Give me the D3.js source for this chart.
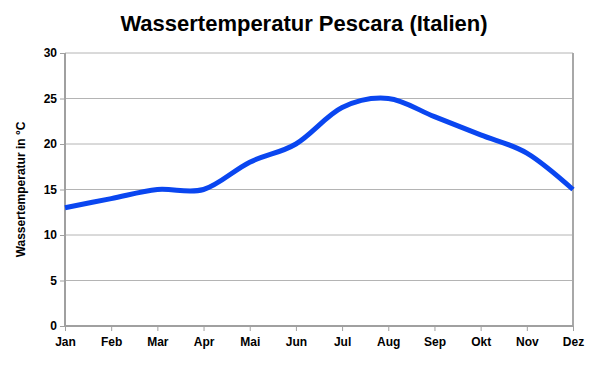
<!DOCTYPE html>
<meta charset="utf-8">
<head>
    <title>Wassertemperatur Pescara</title>
    <style>
        body { margin: 0; background: #fff; }
        text { font-family: "Liberation Sans", Arial, sans-serif; font-weight: bold; fill: #000; }
    </style>
</head>
<body>
    <script src="https://d3js.org/d3.v7.min.js"></script>
    <script>
        // data
        var months = ["Jan", "Feb", "Mar", "Apr", "Mai", "Jun", "Jul", "Aug", "Sep", "Okt", "Nov", "Dez"];
        var temps = [13, 14, 15, 15, 18, 20, 24, 25, 23, 21, 19, 15];
        var yTicks = [0, 5, 10, 15, 20, 25, 30];

        var margin = {top: 53, right: 23, bottom: 46, left: 65};
        var width = 596 - margin.left - margin.right;
        var height = 372 - margin.top - margin.bottom;

        var svg = d3.select("body")
            .append("svg")
            .attr("width", 596)
            .attr("height", 372);

        svg.append("text")
            .attr("x", 304)
            .attr("y", 31)
            .attr("text-anchor", "middle")
            .style("font-size", "22px")
            .text("Wassertemperatur Pescara (Italien)");

        var g = svg.append("g")
            .attr("transform", `translate(${margin.left}, ${margin.top})`);

        var xScale = d3.scalePoint().domain(months).range([0, width]);
        var yScale = d3.scaleLinear().domain([0, 30]).range([height, 0]);

        // gridlines
        g.selectAll(".grid")
            .data(yTicks)
            .enter().append("line")
            .attr("x1", 0).attr("x2", width)
            .attr("y1", d => yScale(d)).attr("y2", d => yScale(d))
            .style("stroke", "#b4b4b4")
            .style("stroke-width", 1);

        // right border
        g.append("line")
            .attr("x1", width).attr("x2", width)
            .attr("y1", 0).attr("y2", height)
            .style("stroke", "#a8a8a8")
            .style("stroke-width", 2);

        var yAxis = g.append("g")
            .call(d3.axisLeft(yScale).tickValues(yTicks).tickSize(5).tickPadding(3));
        var xAxis = g.append("g")
            .attr("transform", `translate(0, ${height})`)
            .call(d3.axisBottom(xScale).tickSize(5).tickPadding(6));

        [xAxis, yAxis].forEach(function(a) {
            a.select(".domain").style("stroke", "#a0a0a0").style("stroke-width", 2);
            a.selectAll(".tick line").style("stroke", "#a0a0a0").style("stroke-width", 1);
            a.selectAll("text")
                .style("font-size", "12px")
                .style("font-family", "'Liberation Sans', Arial, sans-serif")
                .style("font-weight", "bold")
                .style("fill", "#000");
        });
        yAxis.select(".domain").attr("d", `M0,${height}V0`);
        xAxis.select(".domain").attr("d", `M0,0H${width}`);

        svg.append("text")
            .attr("transform", `translate(25, ${margin.top + height / 2}) rotate(-90)`)
            .attr("text-anchor", "middle")
            .style("font-size", "12px")
            .text("Wassertemperatur in °C");

        var line = d3.line()
            .x((d, i) => xScale(months[i]))
            .y(d => yScale(d))
            .curve(d3.curveCatmullRom.alpha(0));

        g.append("path")
            .datum(temps)
            .attr("d", line)
            .style("fill", "none")
            .style("stroke", "#0a46f0")
            .style("stroke-width", 5)
            .style("stroke-linecap", "butt");
    </script>
</body>
</html>
